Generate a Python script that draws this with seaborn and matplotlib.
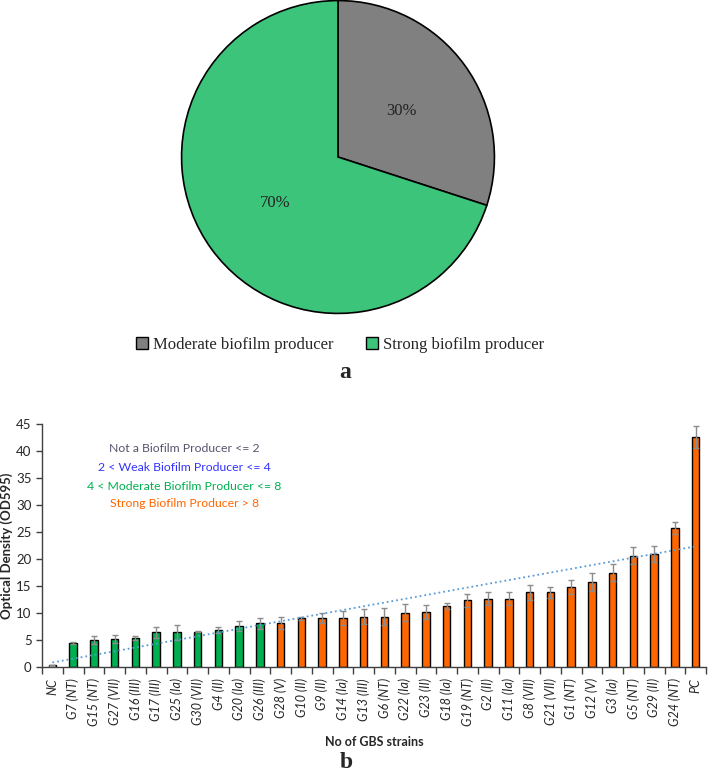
import numpy as np
import pandas as pd
import matplotlib
matplotlib.use("Agg")
import matplotlib.pyplot as plt
from matplotlib.patches import Patch
import seaborn as sns

# --- panel a: pie ---
pie_labels = ["Moderate biofilm producer", "Strong biofilm producer"]
pie_values = [30, 70]
pie_colors = ["#808080", "#3CC47B"]

# --- panel b: bars ---
strains = ["NC", "G7 (NT)", "G15 (NT)", "G27 (VII)", "G16 (III)", "G17 (III)",
           "G25 (Ia)", "G30 (VII)", "G4 (II)", "G20 (Ia)", "G26 (III)", "G28 (V)",
           "G10 (II)", "G9 (II)", "G14 (Ia)", "G13 (III)", "G6 (NT)", "G22 (Ia)",
           "G23 (II)", "G18 (Ia)", "G19 (NT)", "G2 (II)", "G11 (Ia)", "G8 (VII)",
           "G21 (VII)", "G1 (NT)", "G12 (V)", "G3 (Ia)", "G5 (NT)", "G29 (II)",
           "G24 (NT)", "PC"]
od_values = [0.3, 4.4, 5.0, 5.2, 5.4, 6.4, 6.4, 6.5, 6.9, 7.6, 8.1, 8.2,
             9.0, 9.1, 9.1, 9.3, 9.35, 10.05, 10.1, 11.3, 12.35, 12.6, 12.65, 13.8,
             13.8, 14.75, 15.8, 17.5, 20.6, 21.0, 25.7, 42.6]
od_errors = [0.1, 0.2, 0.7, 0.7, 0.4, 1.1, 1.4, 0.1, 0.6, 0.9, 1.0, 1.1,
             0.3, 0.9, 1.3, 1.4, 1.6, 1.6, 1.3, 0.5, 1.2, 1.2, 1.2, 1.4,
             1.1, 1.3, 1.7, 1.6, 1.6, 1.5, 1.1, 2.1]
groups = ["moderate"] * 11 + ["strong"] * 21
group_colors = {"moderate": "#00B050", "strong": "#FF6600"}

legend_lines = ["Not a Biofilm Producer <= 2", "2 < Weak Biofilm Producer <= 4",
                "4 < Moderate Biofilm Producer <= 8", "Strong Biofilm Producer > 8"]
legend_colors = ["#55556e", "#3333ff", "#00B050", "#FF6600"]
legend_y = [40.4, 37.0, 33.5, 30.2]

sns.set_style("ticks")
plt.rcParams['font.family'] = ['Lato', 'DejaVu Sans']

fig = plt.figure(figsize=(7.08, 7.76), dpi=100)

# pie
ax_pie = fig.add_axes([(338 - 158) / 708, 1 - (157 + 158) / 776, 316 / 708, 316 / 776])
ax_pie.pie(pie_values, colors=pie_colors, startangle=90, counterclock=False,
           autopct=lambda p: f"{p:.0f}%", pctdistance=0.5,
           wedgeprops=dict(edgecolor="black", linewidth=1.2),
           textprops=dict(family="Liberation Serif", size=12, color="#222222"))
ax_pie.set_xlim(-1.01, 1.01)
ax_pie.set_ylim(-1.01, 1.01)

handles = [Patch(facecolor=c, edgecolor="black", linewidth=1) for c in pie_colors]
fig.legend(handles, pie_labels, loc="center", bbox_to_anchor=(340 / 708, 1 - 345 / 776),
           ncol=2, frameon=False, prop=dict(family="Liberation Serif", size=12),
           handlelength=0.7, handleheight=0.7, handletextpad=0.3, columnspacing=2.0)
fig.text(345 / 708, 1 - 372 / 776, "a", ha="center", va="center",
         family="Liberation Serif", weight="bold", size=17)

# bars
df = pd.DataFrame({"strain": strains, "od": od_values, "group": groups})
ax = fig.add_axes([42 / 708, 1 - 667 / 776, 664 / 708, 243 / 776])
sns.barplot(data=df, x="strain", y="od", hue="group", palette=group_colors,
            dodge=False, width=0.35, saturation=1, edgecolor="black", linewidth=1,
            legend=False, ax=ax)
idx = np.arange(len(strains))
ax.errorbar(idx, od_values, yerr=od_errors, fmt="none", ecolor="#8c8c8c",
            elinewidth=1, capsize=2.5, capthick=1, zorder=3)

# linear trendline
coef = np.polyfit(idx + 1, od_values, 1)
ends = np.array([0, len(strains) - 1])
ax.plot(ends, np.polyval(coef, ends + 1), linestyle=":", color="#5B9BD5", lw=1.3, zorder=4)

for txt, col, yy in zip(legend_lines, legend_colors, legend_y):
    ax.text(6.35, yy, txt, color=col, ha="center", va="center", size=8.8)

ax.set_xlim(-0.5, len(strains) - 0.5)
ax.set_ylim(0, 45)
ax.set_yticks(np.arange(0, 46, 5))
ax.set_xticks(idx)
ax.set_xticklabels(strains, rotation=90, style="italic", size=9)
ax.set_xticks(np.arange(-0.5, len(strains), 1), minor=True)
ax.tick_params(axis="x", which="major", length=0, pad=8)
ax.tick_params(axis="x", which="minor", bottom=True, length=5, width=1, color="#404040")
ax.tick_params(axis="y", length=4, width=1, color="#404040", labelsize=9.5)
sns.despine(ax=ax)
for s in ["left", "bottom"]:
    ax.spines[s].set_color("#404040")
    ax.spines[s].set_linewidth(1)

ax.set_ylabel("Optical Density (OD595)", weight="bold", size=9.5)
ax.yaxis.set_label_coords(-(42 - 13) / 664, 0.5)
ax.set_xlabel("No of GBS strains", weight="bold", size=9)
ax.xaxis.set_label_coords(0.5, -(736 - 667) / 243)

fig.text(346 / 708, 1 - 763 / 776, "b", ha="center", va="center",
         family="Liberation Serif", weight="bold", size=17)

fig.savefig("out.png", dpi=100)
